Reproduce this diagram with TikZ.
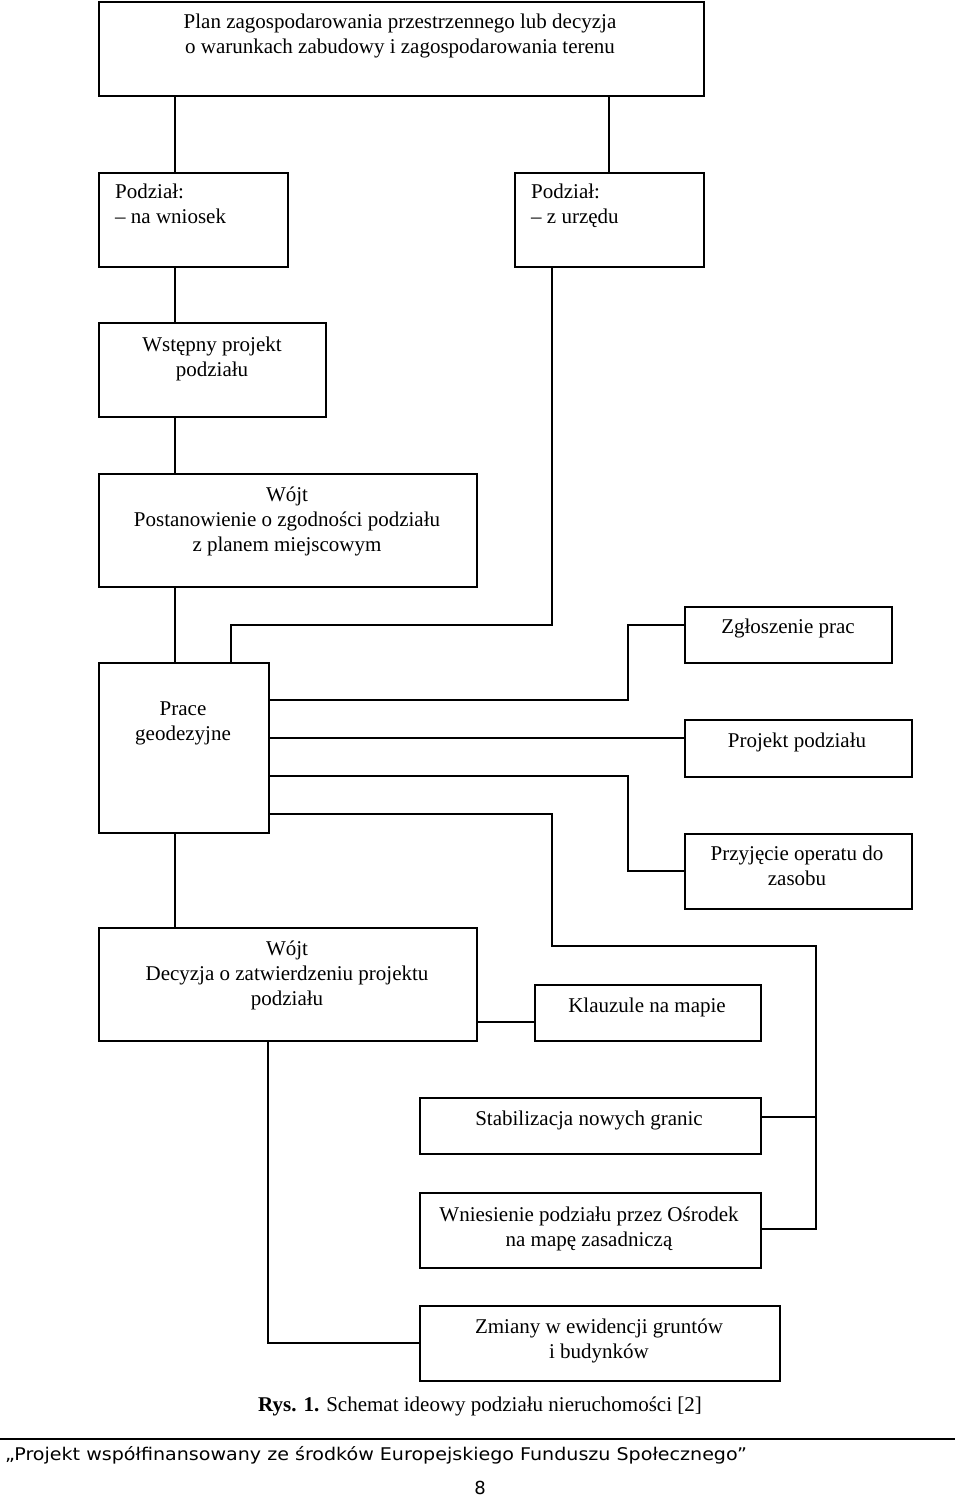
\documentclass[tikz,border=0pt]{standalone}
\usepackage{fontspec}
\setmainfont{Liberation Serif}
\newfontfamily\footfont{DejaVu Sans}
\begin{document}
\begin{tikzpicture}[x=1pt,y=-1pt,
  box/.style={draw, line width=1.6pt, anchor=north west, inner sep=0pt},
  txt/.style={font=\fontsize{21}{25}\selectfont, align=center, inner sep=0pt, anchor=base},
  ltxt/.style={font=\fontsize{21}{25}\selectfont, align=left, inner sep=0pt, anchor=base west},
  ln/.style={line width=1.6pt}]
\useasboundingbox (0,0) rectangle (960,1496);
% boxes
\node[box, minimum width=605pt, minimum height=94pt] (top) at (98,1) {};
\node[box, minimum width=189pt, minimum height=94pt] (wn) at (98,172) {};
\node[box, minimum width=189pt, minimum height=94pt] (zu) at (514,172) {};
\node[box, minimum width=227pt, minimum height=94pt] (wp) at (98,322) {};
\node[box, minimum width=378pt, minimum height=113pt] (w1) at (98,473) {};
\node[box, minimum width=207pt, minimum height=56pt] (zg) at (684,606) {};
\node[box, minimum width=170pt, minimum height=170pt] (prace) at (98,662) {};
\node[box, minimum width=227pt, minimum height=57pt] (pp) at (684,719) {};
\node[box, minimum width=227pt, minimum height=75pt] (przyj) at (684,833) {};
\node[box, minimum width=378pt, minimum height=113pt] (w2) at (98,927) {};
\node[box, minimum width=226pt, minimum height=56pt] (kl) at (534,984) {};
\node[box, minimum width=341pt, minimum height=56pt] (stab) at (419,1097) {};
\node[box, minimum width=341pt, minimum height=75pt] (wnies) at (419,1192) {};
\node[box, minimum width=360pt, minimum height=75pt] (zm) at (419,1305) {};
% texts (anchor base = baseline of the last line)
\node[txt] (ttop) at (400,54) {Plan zagospodarowania przestrzennego lub decyzja\\o warunkach zabudowy i zagospodarowania terenu};
\node[ltxt] (twn) at (115,223) {Podział:\\– na wniosek};
\node[ltxt] (tzu) at (531,223) {Podział:\\– z urzędu};
\node[txt] (twp) at (212,376) {Wstępny projekt\\podziału};
\node[txt] (tw1) at (287,551) {Wójt\\Postanowienie o zgodności podziału\\z planem miejscowym};
\node[txt] (tzg) at (788,633) {Zgłoszenie prac};
\node[txt] (tprace) at (183,740) {Prace\\geodezyjne};
\node[txt] (tpp) at (797,747) {Projekt podziału};
\node[txt] (tprzyj) at (797,885) {Przyjęcie operatu do\\zasobu};
\node[txt] (tw2) at (287,1005) {Wójt\\Decyzja o zatwierdzeniu projektu\\podziału};
\node[txt] (tkl) at (647,1012) {Klauzule na mapie};
\node[txt] (tstab) at (589,1125) {Stabilizacja nowych granic};
\node[txt] (twnies) at (589,1246) {Wniesienie podziału przez Ośrodek\\na mapę zasadniczą};
\node[txt] (tzm) at (599,1358) {Zmiany w ewidencji gruntów\\i budynków};
\node[txt] (cap) at (480,1411) {\textbf{Rys. 1.} Schemat ideowy podziału nieruchomości [2]};
% columns and rows
\coordinate (cA) at (175,0);
\coordinate (cB) at (609,0);
\coordinate (cC) at (552,0);
\coordinate (cD) at (231,0);
\coordinate (cE) at (628,0);
\coordinate (cF) at (816,0);
\coordinate (cG) at (268,0);
\coordinate (r1) at (0,625);
\coordinate (r2) at (0,700);
\coordinate (r3) at (0,738);
\coordinate (r4) at (0,776);
\coordinate (r5) at (0,871);
\coordinate (r6) at (0,814);
\coordinate (r7) at (0,946);
\coordinate (r8) at (0,1117);
\coordinate (r9) at (0,1229);
\coordinate (r10) at (0,1022);
\coordinate (r11) at (0,1343);
% connectors
\draw[ln] (top.south -| cA) -- (wn.north -| cA);
\draw[ln] (top.south -| cB) -- (zu.north -| cB);
\draw[ln] (wn.south -| cA) -- (wp.north -| cA);
\draw[ln] (wp.south -| cA) -- (w1.north -| cA);
\draw[ln] (w1.south -| cA) -- (prace.north -| cA);
\draw[ln] (zu.south -| cC) -- (cC |- r1) -- (cD |- r1) -- (prace.north -| cD);
\draw[ln] (prace.east |- r2) -- (cE |- r2) -- (cE |- r1) -- (zg.west |- r1);
\draw[ln] (prace.east |- r3) -- (pp.west |- r3);
\draw[ln] (prace.east |- r4) -- (cE |- r4) -- (cE |- r5) -- (przyj.west |- r5);
\draw[ln] (prace.east |- r6) -- (cC |- r6) -- (cC |- r7) -- (cF |- r7) -- (cF |- r9) -- (wnies.east |- r9);
\draw[ln] (stab.east |- r8) -- (cF |- r8);
\draw[ln] (prace.south -| cA) -- (w2.north -| cA);
\draw[ln] (w2.east |- r10) -- (kl.west |- r10);
\draw[ln] (w2.south -| cG) -- (cG |- r11) -- (zm.west |- r11);
% footer
\coordinate (fl) at (0,1439);
\coordinate (fr) at (955,1439);
\draw[line width=1.8pt] (fl) -- (fr);
\node[font=\footfont\fontsize{17.5}{20}\selectfont, inner sep=0pt, anchor=base west] (foot) at (5,1460) {\scalebox{1.09}[1]{„Projekt współfinansowany ze środków Europejskiego Funduszu Społecznego”}};
\node[font=\footfont\fontsize{18}{20}\selectfont, inner sep=0pt, anchor=base] (page) at (480,1494) {8};
\end{tikzpicture}
\end{document}
